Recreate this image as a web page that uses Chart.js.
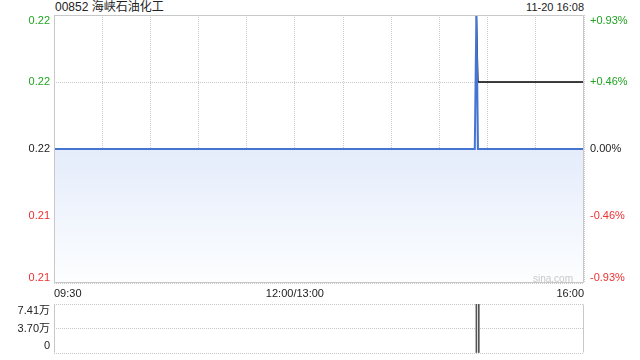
<!DOCTYPE html>
<html>
<head>
<meta charset="utf-8">
<script src="https://cdn.jsdelivr.net/npm/chart.js@4/dist/chart.umd.min.js"></script>
<style>
  html, body { margin: 0; padding: 0; background: #fff; }
  body { width: 640px; height: 360px; position: relative; overflow: hidden;
         font-family: "Liberation Sans", Arial, "Noto Sans CJK SC", sans-serif; color: #222; }
  .abs { position: absolute; white-space: nowrap; }
  #title { left: 55px; top: 0px; font-size: 12px; line-height: 15px; }
  #stamp { right: 56px; top: 1px; font-size: 11px; line-height: 13px; }
  #mark { right: 67px; top: 272px; font-size: 10px; line-height: 14px; color: #c8c8c8; }
  #main { left: 0; top: 0; }
  #vol { left: 0; top: 290px; }
</style>
</head>
<body>
<div class="abs" id="title">00852 海峡石油化工</div>
<div class="abs" id="stamp">11-20 16:08</div>
<canvas class="abs" id="main" width="640" height="300"></canvas>
<canvas class="abs" id="vol" width="640" height="70"></canvas>
<div class="abs" id="mark">sina.com</div>
<script>
// ---- Data ------------------------------------------------------------------
// x = trading minutes since 09:30 (lunch break removed, 330 = 16:00)
const preClose = 0.215;
const priceMinutes = [0, 262, 263, 264, 330];
const priceValues = [0.215, 0.215, 0.217, 0.215, 0.215];
const avgMinutes = [263, 264, 330];
const avgValues = [0.217, 0.216, 0.216];
const volMinutes = [263, 264.5];
const volValues = [74100, 74000];

const priceTicks = [0.213, 0.214, 0.215, 0.216, 0.217];
const priceTickLabels = ["0.21", "0.21", "0.22", "0.22", "0.22"];
const pctTickLabels = ["-0.93%", "-0.46%", "0.00%", "+0.46%", "+0.93%"];
const timeTickValues = [0, 150, 330];
const timeTickLabels = ["09:30", "12:00/13:00", "16:00"];
const volTicks = [0, 37050, 74100];
const volTickLabels = ["0", "3.70万", "7.41万"];

// ---- Style -----------------------------------------------------------------
const UP = "#22a322", DOWN = "#ee3030", FLAT = "#222";
const GRID = "#c8c8c8", FRAME = "#c8c8c8";
Chart.defaults.font.family = '"Liberation Sans", Arial, "Noto Sans CJK SC", sans-serif';
Chart.defaults.font.size = 11;
Chart.defaults.color = FLAT;

const pts = (xs, ys) => xs.map((x, i) => ({ x, y: ys[i] }));
const tickColor = (c) => {
  const v = priceTicks[c.index];
  return v > preClose ? UP : v < preClose ? DOWN : FLAT;
};
// first / last label pushed inside the plot (top aligned / bottom aligned)
const edgeLabel = (arr, i) => {
  if (i === arr.length - 1) return ["", arr[i]];
  if (i === 0) return [arr[i], ""];
  return arr[i];
};
// y axis: fixed width, and no extra room reserved for the edge labels
const fixY = (w) => (s) => {
  s.width = w;
  s.paddingTop = 0;
  s.paddingBottom = 0;
};

const frame = (sides) => ({
  id: "frame",
  afterDraw(chart) {
    const { ctx, chartArea: a } = chart;
    ctx.save();
    ctx.strokeStyle = FRAME;
    ctx.lineWidth = 1;
    ctx.beginPath();
    const L = Math.round(a.left) + 0.5, R = Math.round(a.right) - 0.5;
    const T = Math.round(a.top) + 0.5, B = Math.round(a.bottom) - 0.5;
    if (sides.includes("l")) { ctx.moveTo(L, T); ctx.lineTo(L, B); }
    if (sides.includes("r")) { ctx.moveTo(R, T); ctx.lineTo(R, B); }
    if (sides.includes("t")) { ctx.moveTo(L, T); ctx.lineTo(R, T); }
    if (sides.includes("b")) { ctx.moveTo(L, B); ctx.lineTo(R, B); }
    ctx.stroke();
    ctx.restore();
  },
});

// ---- Price chart -----------------------------------------------------------
new Chart(document.getElementById("main"), {
  type: "line",
  data: {
    datasets: [
      {
        data: pts(avgMinutes, avgValues),
        borderColor: "#000",
        borderWidth: 1.3,
        pointRadius: 0,
        fill: false,
        order: 1,
      },
      {
        data: pts(priceMinutes, priceValues),
        borderColor: "#4575d2",
        borderWidth: 2,
        pointRadius: 0,
        fill: "start",
        backgroundColor: (c) => {
          const a = c.chart.chartArea;
          if (!a) return "rgba(0,0,0,0)";
          const g = c.chart.ctx.createLinearGradient(0, a.top, 0, a.bottom);
          g.addColorStop(0, "#d6e3f9");
          g.addColorStop(0.5, "#e4ecfb");
          g.addColorStop(1, "#fdfeff");
          return g;
        },
        order: 0,
      },
    ],
  },
  options: {
    responsive: false,
    animation: false,
    events: [],
    layout: { padding: { top: 15, bottom: 0 } },
    plugins: { legend: { display: false }, tooltip: { enabled: false } },
    scales: {
      x: {
        type: "linear",
        min: 0,
        max: 330,
        grid: { color: GRID, drawTicks: false },
        border: { display: false, dash: [1, 1] },
        ticks: {
          stepSize: 30,
          autoSkip: false,
          maxRotation: 0,
          align: "inner",
          padding: 4,
          color: FLAT,
          callback: (v) => {
            const i = timeTickValues.indexOf(v);
            return i >= 0 ? timeTickLabels[i] : "";
          },
        },
        afterFit: (s) => { s.height = 17; },
      },
      y: {
        position: "left",
        min: priceTicks[0],
        max: priceTicks[priceTicks.length - 1],
        afterBuildTicks: (s) => { s.ticks = priceTicks.map((v) => ({ value: v })); },
        grid: { color: GRID, drawTicks: false },
        border: { display: false, dash: [1, 1] },
        ticks: {
          autoSkip: false,
          padding: 4,
          font: { size: 11, lineHeight: 1 },
          color: tickColor,
          callback: (v, i) => edgeLabel(priceTickLabels, i),
        },
        afterFit: fixY(54),
      },
      y2: {
        position: "right",
        min: priceTicks[0],
        max: priceTicks[priceTicks.length - 1],
        afterBuildTicks: (s) => { s.ticks = priceTicks.map((v) => ({ value: v })); },
        grid: { display: false, drawTicks: false },
        border: { display: false },
        ticks: {
          autoSkip: false,
          padding: 6,
          font: { size: 11, lineHeight: 1 },
          color: tickColor,
          callback: (v, i) => edgeLabel(pctTickLabels, i),
        },
        afterFit: fixY(56),
      },
    },
  },
  plugins: [frame("lrtb")],
});

// ---- Volume chart ----------------------------------------------------------
new Chart(document.getElementById("vol"), {
  type: "bar",
  data: {
    datasets: [
      {
        data: pts(volMinutes, volValues),
        backgroundColor: "#555",
        barThickness: 1,
      },
    ],
  },
  options: {
    responsive: false,
    animation: false,
    events: [],
    layout: { padding: { top: 14, right: 56, bottom: 7 } },
    plugins: { legend: { display: false }, tooltip: { enabled: false } },
    scales: {
      x: { type: "linear", min: 0, max: 330, offset: false, display: false },
      y: {
        min: 0,
        max: volTicks[volTicks.length - 1],
        afterBuildTicks: (s) => { s.ticks = volTicks.map((v) => ({ value: v })); },
        grid: { color: GRID, drawTicks: false },
        border: { display: false, dash: [1, 1] },
        ticks: {
          autoSkip: false,
          padding: 4,
          font: { size: 11, lineHeight: 1.3 },
          color: FLAT,
          callback: (v, i) => edgeLabel(volTickLabels, i),
        },
        afterFit: fixY(54),
      },
    },
  },
  plugins: [frame("lr")],
});
</script>
</body>
</html>
